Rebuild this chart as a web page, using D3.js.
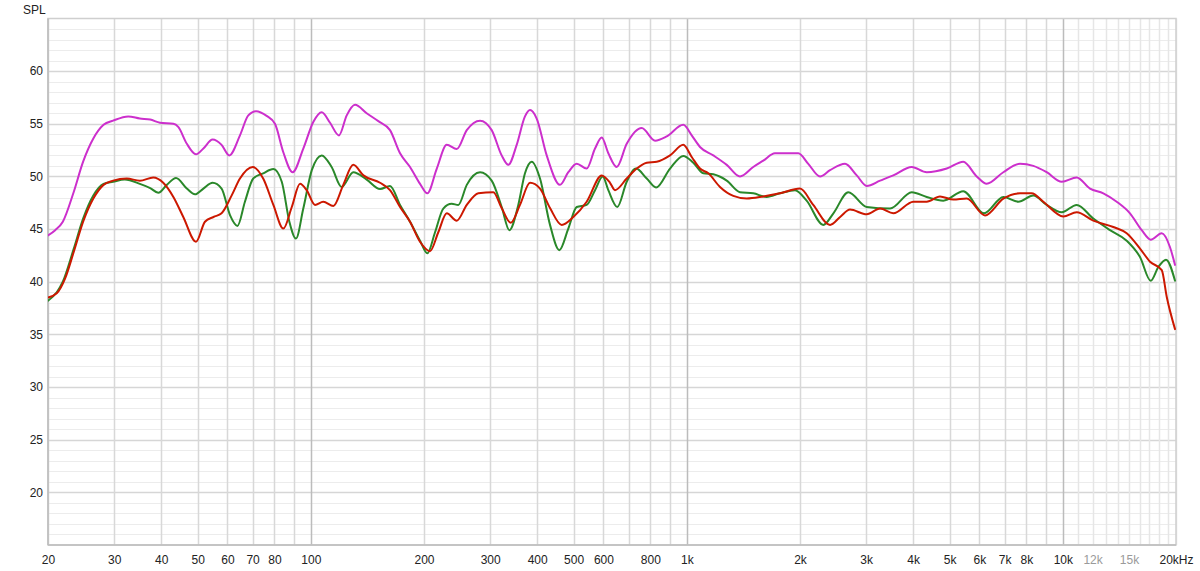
<!DOCTYPE html>
<html>
<head>
<meta charset="utf-8">
<script src="https://cdn.jsdelivr.net/npm/d3@7"></script>
<style>
  html, body { margin: 0; padding: 0; background: #fff; }
  svg { display: block; font-family: "Liberation Sans", Arial, Helvetica, sans-serif; }
</style>
</head>
<body>
<svg id="chart" width="1200" height="571"></svg>
<script>
// ---------- data ----------
const magentaFreq = [20, 20.9, 21.9, 23.4, 24.8, 26.4, 28.1, 29.8, 32.7, 35.1, 37.4, 39.7, 43.1, 44.4, 46.8, 49.5, 51.8, 54.8, 57.9, 60.7, 64.8, 68.2, 71.5, 76.3, 80.3, 84.5, 89.5, 95.5, 101.6, 106.9, 112.5, 118.8, 124.6, 131.1, 140.8, 151.2, 162.4, 172.7, 183.6, 195.2, 204.1, 216.3, 229.9, 244.4, 259.9, 281.9, 302.7, 321.8, 335.1, 352.8, 371.2, 382.8, 398.8, 424, 460, 484, 509.5, 541.6, 570, 593.9, 618.4, 650.9, 692.1, 758.8, 823.3, 884.4, 978.7, 1030.5, 1084, 1176, 1277, 1385, 1502, 1597, 1716, 1843, 1979, 2104, 2261, 2404, 2635, 2831, 3009, 3266, 3541, 3965, 4346, 4912, 5436, 5903, 6274, 6947, 7694, 8346, 9059, 9934, 10888, 11810, 12815, 13911, 15089, 16210, 17130, 18330, 19270, 19880];
const magentaDb = [44.4, 44.9, 45.7, 48.5, 51.4, 53.6, 54.9, 55.3, 55.7, 55.5, 55.4, 55.1, 55.0, 54.7, 53.1, 52.1, 52.65, 53.5, 53.0, 52.0, 53.9, 55.8, 56.2, 55.75, 55.0, 52.3, 50.4, 52.65, 55.2, 56.1, 55.1, 53.9, 55.8, 56.8, 56.0, 55.25, 54.4, 52.2, 50.9, 49.3, 48.4, 50.75, 53.0, 52.6, 54.4, 55.3, 54.4, 52.0, 51.1, 53.0, 55.7, 56.3, 55.5, 52.0, 49.2, 50.4, 51.2, 50.75, 52.65, 53.7, 52.2, 50.9, 53.1, 54.6, 53.4, 53.8, 54.9, 53.9, 52.8, 52.0, 51.1, 50.0, 50.9, 51.5, 52.2, 52.2, 52.2, 51.2, 50.0, 50.6, 51.2, 50.1, 49.1, 49.6, 50.1, 50.9, 50.4, 50.75, 51.4, 50.0, 49.3, 50.4, 51.2, 51.0, 50.4, 49.5, 49.9, 48.85, 48.4, 47.6, 46.5, 44.9, 44.0, 44.6, 43.3, 41.6];

const redFreq = [20, 21.1, 22.2, 23.4, 24.8, 26.4, 28.1, 29.8, 32.4, 35.1, 38.1, 40.5, 43.1, 45.8, 49.5, 52.3, 55.1, 57.9, 61.6, 64.8, 70.1, 74.7, 79.5, 84.5, 89.0, 93.6, 97.5, 102.6, 107.9, 114.8, 122.0, 129.7, 138.0, 152.8, 162.4, 172.7, 183.6, 195.2, 207.5, 218.3, 229.9, 244.4, 259.9, 279.0, 305.7, 321.8, 340.1, 360.0, 382.8, 407.0, 432.7, 464.8, 499.0, 541.6, 593.9, 624.8, 644.2, 692.1, 735.9, 782.4, 831.9, 902.5, 978.7, 1030.5, 1084, 1140.7, 1225.4, 1329.5, 1443, 1597, 1769, 2000, 2169, 2404, 2557, 2717, 3009, 3266, 3541, 4003, 4346, 4713, 5114, 5551, 6210, 6947, 7694, 8264, 8873, 10030, 10888, 12052, 13625, 14786, 16043, 17060, 18330, 18900, 19880];
const redDb = [38.5, 38.9, 40.3, 42.8, 45.7, 47.9, 49.2, 49.6, 49.8, 49.6, 49.9, 49.4, 48.05, 46.15, 43.8, 45.7, 46.15, 46.5, 48.2, 49.8, 50.9, 49.8, 47.3, 45.05, 47.1, 49.3, 48.7, 47.3, 47.6, 47.2, 49.2, 51.1, 50.1, 49.4, 48.7, 47.1, 45.7, 43.8, 42.9, 44.7, 46.5, 45.8, 47.3, 48.4, 48.5, 47.0, 45.6, 47.3, 49.4, 48.85, 47.0, 45.4, 46.15, 47.6, 50.1, 49.4, 48.7, 49.8, 50.75, 51.3, 51.4, 52.0, 53.0, 51.85, 50.75, 50.3, 49.0, 48.15, 47.9, 48.1, 48.4, 48.85, 47.3, 45.4, 46.15, 46.85, 46.4, 46.95, 46.5, 47.6, 47.6, 48.1, 47.8, 47.9, 46.3, 47.9, 48.4, 48.4, 47.6, 46.2, 46.6, 45.8, 45.2, 44.6, 43.15, 41.9, 41.1, 38.55, 35.5];

const greenFreq = [20, 21.1, 21.9, 23.4, 24.8, 26.4, 28.1, 29.8, 32.0, 35.1, 37.4, 39.3, 41.4, 43.8, 46.8, 49.2, 51.8, 54.8, 57.9, 61.0, 63.8, 66.8, 70.3, 74.7, 79.5, 83.7, 87.7, 91.3, 95.5, 100.6, 106.9, 113.6, 120.8, 129.7, 140.8, 152.8, 162.4, 172.7, 183.6, 195.2, 204.1, 214.0, 225.1, 237.0, 246.8, 259.9, 281.9, 302.7, 321.8, 337.2, 356.3, 371.2, 386.8, 407.0, 432.7, 458.0, 484.0, 509.5, 541.6, 570.0, 597.5, 618.4, 653.3, 692.1, 732.7, 782.4, 828.3, 902.5, 978.7, 1040.5, 1106.3, 1176.2, 1277, 1385, 1502, 1631, 1769, 1940, 2083, 2307, 2454, 2689, 3009, 3471, 3965, 4346, 4810, 5436, 6172, 6947, 7615, 8346, 9059, 9934, 10888, 12052, 13352, 14786, 16043, 17130, 17950, 18810, 19880];
const greenDb = [38.2, 39.0, 40.0, 43.1, 46.0, 48.2, 49.3, 49.5, 49.7, 49.3, 48.9, 48.45, 49.2, 49.85, 48.85, 48.3, 48.85, 49.4, 48.85, 46.3, 45.3, 47.6, 49.8, 50.3, 50.7, 49.5, 45.7, 44.1, 46.95, 50.6, 52.0, 50.9, 49.0, 50.4, 49.7, 48.8, 49.1, 47.3, 45.7, 43.9, 42.7, 44.7, 46.95, 47.4, 47.3, 49.2, 50.4, 49.6, 47.1, 44.9, 47.3, 50.3, 51.4, 49.8, 45.4, 43.0, 45.05, 47.1, 47.3, 48.7, 50.0, 48.7, 47.1, 49.5, 50.75, 49.8, 48.95, 50.75, 51.95, 51.3, 50.3, 50.2, 49.6, 48.5, 48.4, 48.05, 48.4, 48.7, 47.7, 45.4, 46.5, 48.5, 47.1, 46.95, 48.5, 48.05, 47.7, 48.6, 46.5, 48.05, 47.6, 48.2, 47.3, 46.6, 47.3, 46.0, 44.9, 43.9, 42.35, 40.1, 41.4, 42.1, 40.1];

const xTickValues = [20, 30, 40, 50, 60, 70, 80, 100, 200, 300, 400, 500, 600, 800, 1000, 2000, 3000, 4000, 5000, 6000, 7000, 8000, 10000, 12000, 15000, 20000];
const xTickLabels = ["20", "30", "40", "50", "60", "70", "80", "100", "200", "300", "400", "500", "600", "800", "1k", "2k", "3k", "4k", "5k", "6k", "7k", "8k", "10k", "12k", "15k", "20kHz"];
const xTickMuted = ["12k", "15k"];
const yTickValues = [20, 25, 30, 35, 40, 45, 50, 55, 60];
const yAxisLabel = "SPL";

const series = [
  { name: "magenta", freq: magentaFreq, db: magentaDb, color: "#cc2fcc" },
  { name: "green", freq: greenFreq, db: greenDb, color: "#2a882a" },
  { name: "red", freq: redFreq, db: redDb, color: "#cc1800" }
];

// ---------- layout ----------
const W = 1200, H = 571;
const margin = { top: 18.5, right: 24, bottom: 26, left: 48 };
const svg = d3.select("#chart");

const x = d3.scaleLog().domain([20, 20000]).range([margin.left, W - margin.right]);
const y = d3.scaleLinear().domain([15, 65]).range([H - margin.bottom, margin.top]);

const g = svg.append("g");

// horizontal grid (1 dB minor, 5 dB major)
const hLines = d3.range(16, 65, 1);
g.append("g").selectAll("line").data(hLines).join("line")
  .attr("x1", margin.left).attr("x2", W - margin.right)
  .attr("y1", d => Math.round(y(d)) + 0.5).attr("y2", d => Math.round(y(d)) + 0.5)
  .attr("stroke", d => d % 5 === 0 ? "#d6d6d6" : "#ececec")
  .attr("stroke-width", d => d % 5 === 0 ? 1.5 : 1.2);

// vertical grid
const vLines = [];
[10, 100, 1000].forEach(dec => { for (let k = 1; k <= 9; k++) { const f = k * dec; if (f >= 20) vLines.push(f); } });
for (let f = 10000; f <= 20000; f += 1000) vLines.push(f);
g.append("g").selectAll("line").data(vLines).join("line")
  .attr("x1", d => Math.round(x(d)) + 0.5).attr("x2", d => Math.round(x(d)) + 0.5)
  .attr("y1", margin.top).attr("y2", H - margin.bottom)
  .attr("stroke", d => (d === 100 || d === 1000 || d === 10000) ? "#bcbcbc" : (d > 10000 ? "#e6e6e6" : "#d8d8d8"))
  .attr("stroke-width", 1.5);

// frame
g.append("rect")
  .attr("x", margin.left).attr("y", margin.top)
  .attr("width", W - margin.left - margin.right).attr("height", H - margin.top - margin.bottom)
  .attr("fill", "none").attr("stroke", "#cfcfcf").attr("stroke-width", 1.5);
g.append("line").attr("x1", margin.left).attr("x2", margin.left)
  .attr("y1", margin.top).attr("y2", H - margin.bottom).attr("stroke", "#bdbdbd").attr("stroke-width", 1.5);
g.append("line").attr("x1", margin.left).attr("x2", W - margin.right)
  .attr("y1", H - margin.bottom).attr("y2", H - margin.bottom).attr("stroke", "#bdbdbd").attr("stroke-width", 1.5);

// axes (text only, via d3 axis)
const xAxis = d3.axisBottom(x).tickValues(xTickValues)
  .tickFormat((d, i) => xTickLabels[i]).tickSize(0).tickPadding(10);
const xg = svg.append("g").attr("transform", `translate(0,${H - margin.bottom})`).call(xAxis);
xg.select(".domain").remove();
xg.selectAll("text").attr("font-size", 12).attr("font-family", "Liberation Sans, Arial, sans-serif")
  .attr("fill", function() { return xTickMuted.includes(this.textContent) ? "#9a9a9a" : "#222"; });

const yAxis = d3.axisLeft(y).tickValues(yTickValues).tickSize(0).tickPadding(4);
const yg = svg.append("g").attr("transform", `translate(${margin.left - 1},0)`).call(yAxis);
yg.select(".domain").remove();
yg.selectAll("text").attr("font-size", 12).attr("font-family", "Liberation Sans, Arial, sans-serif").attr("fill", "#222");

svg.append("text").attr("x", 23).attr("y", 14).attr("font-size", 12)
  .attr("fill", "#222").text(yAxisLabel);

// curves
const line = d3.line().x(d => x(d[0])).y(d => y(d[1])).curve(d3.curveMonotoneX);
const clip = svg.append("clipPath").attr("id", "clip").append("rect")
  .attr("x", margin.left).attr("y", margin.top)
  .attr("width", W - margin.left - margin.right).attr("height", H - margin.top - margin.bottom);
const lines = svg.append("g").attr("clip-path", "url(#clip)");
series.forEach(s => {
  const pts = s.freq.map((f, i) => [f, s.db[i]]);
  lines.append("path").datum(pts)
    .attr("d", line).attr("fill", "none")
    .attr("stroke", s.color).attr("stroke-width", 2)
    .attr("stroke-linejoin", "round").attr("stroke-linecap", "round");
});
</script>
</body>
</html>
